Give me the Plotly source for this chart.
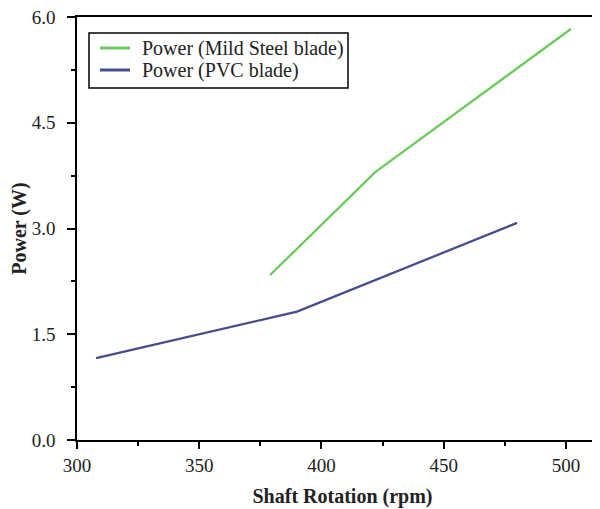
import plotly.graph_objects as go

# Data
steel_rpm = [379, 422, 502]
steel_power = [2.34, 3.80, 5.83]
pvc_rpm = [307.8, 390, 480]
pvc_power = [1.16, 1.82, 3.08]

series_names = ["Power (Mild Steel blade)", "Power (PVC blade)"]
series_colors = ["#6DCB5E", "#454D8D"]
x_ticks = [300, 350, 400, 450, 500]
y_ticks = [0.0, 1.5, 3.0, 4.5, 6.0]

FONT = "Liberation Serif"
TXT = "#222"

fig = go.Figure()
fig.add_trace(go.Scatter(x=steel_rpm, y=steel_power, mode="lines",
                         name=series_names[0], showlegend=False,
                         line=dict(color=series_colors[0], width=2.3)))
fig.add_trace(go.Scatter(x=pvc_rpm, y=pvc_power, mode="lines",
                         name=series_names[1], showlegend=False,
                         line=dict(color=series_colors[1], width=2.3)))

# legend box drawn in paper coordinates
shapes = [dict(type="rect", xref="paper", yref="paper",
               x0=0.0226, x1=0.5104, y0=0.832, y1=0.962,
               line=dict(color="black", width=1.5), fillcolor="white", layer="above")]
annotations = []
row_y = [0.9267, 0.8747]
for name, col, ry in zip(series_names, series_colors, row_y):
    shapes.append(dict(type="line", xref="paper", yref="paper",
                       x0=0.0433, x1=0.0998, y0=ry, y1=ry,
                       line=dict(color=col, width=3), layer="above"))
    annotations.append(dict(text=name, xref="paper", yref="paper",
                            x=0.1186, y=ry, xanchor="left", yanchor="middle",
                            showarrow=False,
                            font=dict(family=FONT, size=20, color=TXT)))

fig.update_layout(
    width=600, height=509,
    margin=dict(l=69, r=0, t=9, b=77),
    plot_bgcolor="white", paper_bgcolor="white",
    font=dict(family=FONT, color=TXT, size=19),
    showlegend=False,
    shapes=shapes, annotations=annotations,
)
fig.update_xaxes(
    range=[300, 517.2], tickvals=x_ticks, ticktext=[str(v) for v in x_ticks],
    showgrid=False, zeroline=False,
    showline=True, linecolor="black", linewidth=1.5, mirror=True,
    ticks="outside", ticklen=7, tickwidth=1.5, tickcolor="black",
    minor=dict(dtick=25, tick0=300, ticks="outside", ticklen=4, tickwidth=1.5, tickcolor="black"),
    tickfont=dict(family=FONT, size=19, color=TXT),
    ticklabeloverflow="allow",
    title=dict(text="<b>Shaft Rotation (rpm)</b>", font=dict(family=FONT, size=20, color=TXT), standoff=14),
)
fig.update_yaxes(
    range=[0, 6], tickvals=y_ticks, ticktext=[f"{v:.1f}" for v in y_ticks],
    showgrid=False, zeroline=False,
    showline=True, linecolor="black", linewidth=1.5, mirror=False,
    ticks="outside", ticklen=8, tickwidth=1.5, tickcolor="black",
    minor=dict(dtick=0.75, tick0=0, ticks="outside", ticklen=4, tickwidth=1.5, tickcolor="black"),
    tickfont=dict(family=FONT, size=19, color=TXT),
    ticklabeloverflow="allow", ticklabelstandoff=8,
    title=dict(text="<b>Power (W)</b>", font=dict(family=FONT, size=20, color=TXT), standoff=2),
)

fig.write_html("out.html")
